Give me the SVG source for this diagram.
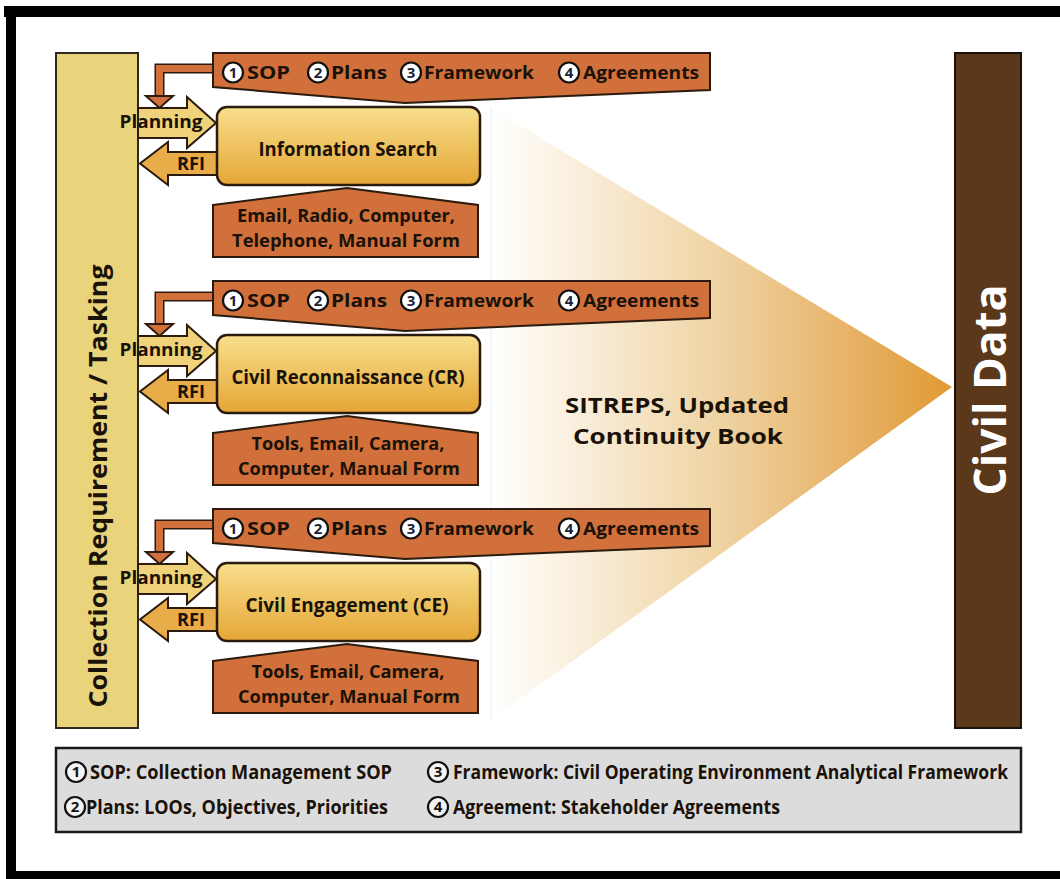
<svg xmlns="http://www.w3.org/2000/svg" width="1060" height="879" viewBox="0 0 1060 879">
  <defs>
    <linearGradient id="boxFill" x1="0" y1="0" x2="0" y2="1">
      <stop offset="0" stop-color="#F8DF8C"/>
      <stop offset="1" stop-color="#E5A636"/>
    </linearGradient>
    <linearGradient id="fanFill" gradientUnits="userSpaceOnUse" x1="491" y1="0" x2="952" y2="0">
      <stop offset="0" stop-color="#FFFFFF"/>
      <stop offset="0.15" stop-color="#FBF2E3"/>
      <stop offset="0.5" stop-color="#EFD3A2"/>
      <stop offset="0.8" stop-color="#E6B062"/>
      <stop offset="1" stop-color="#E09A33"/>
    </linearGradient>
    <style>
      .t { font-family: "Open Sans", "Liberation Sans", sans-serif; font-weight: bold; fill: #1A1208; }
      .mid { text-anchor: middle; }
      .orange { fill: #D1703B; stroke: #2B1B0E; stroke-width: 2; stroke-linejoin: miter; }
      .box { fill: url(#boxFill); stroke: #2B1B0E; stroke-width: 2.5; }
      .num { fill: #FFFFFF; stroke: #111111; stroke-width: 2.2; }
      .lnum { fill: #F4F4F4; stroke: #111111; stroke-width: 2.2; }
      .digit { font-family: "Open Sans", "Liberation Sans", sans-serif; font-weight: bold; font-size: 15px; fill: #1B2238; text-anchor: middle; }
      .pipe-out { fill: none; stroke: #2B1B0E; stroke-width: 10; stroke-linejoin: miter; }
      .pipe-in { fill: none; stroke: #D1703B; stroke-width: 7; stroke-linejoin: miter; }
      .plan { fill: #F0D27A; stroke: #2B1B0E; stroke-width: 2; stroke-linejoin: miter; }
      .rfi { fill: #E8AC48; stroke: #2B1B0E; stroke-width: 2; stroke-linejoin: miter; }
    </style>
  </defs>

  <rect width="1060" height="879" fill="#FFFFFF"/>

  <!-- outer frame -->
  <g id="frame" fill="#000000">
    <rect x="4" y="6" width="1056" height="11"/>
    <rect x="6" y="6" width="10" height="873"/>
    <rect x="6" y="871" width="1054" height="8"/>
  </g>

  <!-- fan of gathered information flowing to the civil data column -->
  <g id="sitreps">
    <polygon points="491,108 952,387 491,720" fill="url(#fanFill)"/>
    <line x1="491" y1="108" x2="491" y2="720" stroke="#EDEDED" stroke-width="1"/>
    <text class="t mid" x="677" y="413" font-size="22" textLength="224" lengthAdjust="spacingAndGlyphs">SITREPS, Updated</text>
    <text class="t mid" x="678" y="444" font-size="22" textLength="210" lengthAdjust="spacingAndGlyphs">Continuity Book</text>
  </g>

  <!-- left column -->
  <g id="collection-tasking">
    <rect x="56" y="53" width="82" height="675" fill="#E9D47C" stroke="#2E2A1E" stroke-width="2"/>
    <text class="t mid" transform="translate(107,486) rotate(-90)" font-size="25" textLength="443" lengthAdjust="spacingAndGlyphs">Collection Requirement / Tasking</text>
  </g>

  <!-- right column -->
  <g id="civil-data">
    <rect x="955" y="53" width="66" height="675" fill="#5A3819" stroke="#1A1208" stroke-width="2"/>
    <text class="t mid" transform="translate(1006,390) rotate(-90)" font-size="44" style="fill:#FFFFFF" textLength="211" lengthAdjust="spacingAndGlyphs">Civil Data</text>
  </g>

  <!-- connectors: guidance feeds, planning and RFI arrows -->
  <g id="connectors">
    <g id="feed-1">
      <path class="pipe-out" d="M214,68.5 H159.5 V97"/>
      <path class="pipe-in" d="M215,68.5 H159.5 V98"/>
      <polygon class="orange" points="146,96 173,96 159.5,108"/>
    </g>
    <g id="feed-2" transform="translate(0,228)">
      <path class="pipe-out" d="M214,68.5 H159.5 V97"/>
      <path class="pipe-in" d="M215,68.5 H159.5 V98"/>
      <polygon class="orange" points="146,96 173,96 159.5,108"/>
    </g>
    <g id="feed-3" transform="translate(0,456)">
      <path class="pipe-out" d="M214,68.5 H159.5 V97"/>
      <path class="pipe-in" d="M215,68.5 H159.5 V98"/>
      <polygon class="orange" points="146,96 173,96 159.5,108"/>
    </g>

    <g id="planning-1">
      <polygon class="plan" points="138,108 187,108 187,97 216,123 187,148 187,138 138,138"/>
      <text class="t mid" x="161" y="128" font-size="18.5" textLength="83" lengthAdjust="spacingAndGlyphs">Planning</text>
    </g>
    <g id="rfi-1">
      <polygon class="rfi" points="219,152 168,152 168,142 140,163.5 168,185 168,175 219,175"/>
      <text class="t mid" x="191" y="170" font-size="17" textLength="28" lengthAdjust="spacingAndGlyphs">RFI</text>
    </g>
    <g id="planning-2" transform="translate(0,228)">
      <polygon class="plan" points="138,108 187,108 187,97 216,123 187,148 187,138 138,138"/>
      <text class="t mid" x="161" y="128" font-size="18.5" textLength="83" lengthAdjust="spacingAndGlyphs">Planning</text>
    </g>
    <g id="rfi-2" transform="translate(0,228)">
      <polygon class="rfi" points="219,152 168,152 168,142 140,163.5 168,185 168,175 219,175"/>
      <text class="t mid" x="191" y="170" font-size="17" textLength="28" lengthAdjust="spacingAndGlyphs">RFI</text>
    </g>
    <g id="planning-3" transform="translate(0,456)">
      <polygon class="plan" points="138,108 187,108 187,97 216,123 187,148 187,138 138,138"/>
      <text class="t mid" x="161" y="128" font-size="18.5" textLength="83" lengthAdjust="spacingAndGlyphs">Planning</text>
    </g>
    <g id="rfi-3" transform="translate(0,456)">
      <polygon class="rfi" points="219,152 168,152 168,142 140,163.5 168,185 168,175 219,175"/>
      <text class="t mid" x="191" y="170" font-size="17" textLength="28" lengthAdjust="spacingAndGlyphs">RFI</text>
    </g>
  </g>

  <!-- guidance banners -->
  <g id="guidance-1">
    <path class="orange" d="M213,53 H710 V90 L405,103 L213,87 Z"/>
    <circle class="num" cx="233" cy="72.5" r="10"/><text class="digit" x="233" y="77.8">1</text>
    <text class="t" x="247" y="79" font-size="18.5" textLength="43" lengthAdjust="spacingAndGlyphs">SOP</text>
    <circle class="num" cx="318" cy="72.5" r="10"/><text class="digit" x="318" y="77.8">2</text>
    <text class="t" x="331" y="79" font-size="18.5" textLength="56" lengthAdjust="spacingAndGlyphs">Plans</text>
    <circle class="num" cx="411" cy="72.5" r="10"/><text class="digit" x="411" y="77.8">3</text>
    <text class="t" x="424" y="79" font-size="18.5" textLength="110" lengthAdjust="spacingAndGlyphs">Framework</text>
    <circle class="num" cx="569" cy="72.5" r="10"/><text class="digit" x="569" y="77.8">4</text>
    <text class="t" x="583" y="79" font-size="18.5" textLength="116" lengthAdjust="spacingAndGlyphs">Agreements</text>
  </g>
  <g id="guidance-2" transform="translate(0,228)">
    <path class="orange" d="M213,53 H710 V90 L405,103 L213,87 Z"/>
    <circle class="num" cx="233" cy="72.5" r="10"/><text class="digit" x="233" y="77.8">1</text>
    <text class="t" x="247" y="79" font-size="18.5" textLength="43" lengthAdjust="spacingAndGlyphs">SOP</text>
    <circle class="num" cx="318" cy="72.5" r="10"/><text class="digit" x="318" y="77.8">2</text>
    <text class="t" x="331" y="79" font-size="18.5" textLength="56" lengthAdjust="spacingAndGlyphs">Plans</text>
    <circle class="num" cx="411" cy="72.5" r="10"/><text class="digit" x="411" y="77.8">3</text>
    <text class="t" x="424" y="79" font-size="18.5" textLength="110" lengthAdjust="spacingAndGlyphs">Framework</text>
    <circle class="num" cx="569" cy="72.5" r="10"/><text class="digit" x="569" y="77.8">4</text>
    <text class="t" x="583" y="79" font-size="18.5" textLength="116" lengthAdjust="spacingAndGlyphs">Agreements</text>
  </g>
  <g id="guidance-3" transform="translate(0,456)">
    <path class="orange" d="M213,53 H710 V90 L405,103 L213,87 Z"/>
    <circle class="num" cx="233" cy="72.5" r="10"/><text class="digit" x="233" y="77.8">1</text>
    <text class="t" x="247" y="79" font-size="18.5" textLength="43" lengthAdjust="spacingAndGlyphs">SOP</text>
    <circle class="num" cx="318" cy="72.5" r="10"/><text class="digit" x="318" y="77.8">2</text>
    <text class="t" x="331" y="79" font-size="18.5" textLength="56" lengthAdjust="spacingAndGlyphs">Plans</text>
    <circle class="num" cx="411" cy="72.5" r="10"/><text class="digit" x="411" y="77.8">3</text>
    <text class="t" x="424" y="79" font-size="18.5" textLength="110" lengthAdjust="spacingAndGlyphs">Framework</text>
    <circle class="num" cx="569" cy="72.5" r="10"/><text class="digit" x="569" y="77.8">4</text>
    <text class="t" x="583" y="79" font-size="18.5" textLength="116" lengthAdjust="spacingAndGlyphs">Agreements</text>
  </g>

  <!-- collection activities -->
  <g id="information-search">
    <rect class="box" x="217" y="107" width="263" height="78" rx="10"/>
    <text class="t mid" x="348" y="156" font-size="19.5" textLength="179" lengthAdjust="spacingAndGlyphs">Information Search</text>
  </g>
  <g id="civil-reconnaissance" transform="translate(0,228)">
    <rect class="box" x="217" y="107" width="263" height="78" rx="10"/>
    <text class="t mid" x="348" y="156" font-size="19.5" textLength="233" lengthAdjust="spacingAndGlyphs">Civil Reconnaissance (CR)</text>
  </g>
  <g id="civil-engagement" transform="translate(0,456)">
    <rect class="box" x="217" y="107" width="263" height="78" rx="10"/>
    <text class="t mid" x="347" y="156" font-size="19.5" textLength="203" lengthAdjust="spacingAndGlyphs">Civil Engagement (CE)</text>
  </g>

  <!-- collection means -->
  <g id="means-1">
    <path class="orange" d="M213,205 L347,188 L478,205 V257 H213 Z"/>
    <text class="t mid" x="346" y="222" font-size="18" textLength="218" lengthAdjust="spacingAndGlyphs">Email, Radio, Computer,</text>
    <text class="t mid" x="346" y="247" font-size="18" textLength="228" lengthAdjust="spacingAndGlyphs">Telephone, Manual Form</text>
  </g>
  <g id="means-2" transform="translate(0,228)">
    <path class="orange" d="M213,205 L347,188 L478,205 V257 H213 Z"/>
    <text class="t mid" x="348" y="222" font-size="18" textLength="193" lengthAdjust="spacingAndGlyphs">Tools, Email, Camera,</text>
    <text class="t mid" x="349" y="247" font-size="18" textLength="222" lengthAdjust="spacingAndGlyphs">Computer, Manual Form</text>
  </g>
  <g id="means-3" transform="translate(0,456)">
    <path class="orange" d="M213,205 L347,188 L478,205 V257 H213 Z"/>
    <text class="t mid" x="348" y="222" font-size="18" textLength="193" lengthAdjust="spacingAndGlyphs">Tools, Email, Camera,</text>
    <text class="t mid" x="349" y="247" font-size="18" textLength="222" lengthAdjust="spacingAndGlyphs">Computer, Manual Form</text>
  </g>

  <!-- key -->
  <g id="legend">
    <rect x="56" y="748" width="965" height="84" fill="#DCDCDC" stroke="#1A1A1A" stroke-width="2.5"/>
    <circle class="lnum" cx="76" cy="772" r="10"/><text class="digit" x="76" y="777.3" style="fill:#111111">1</text>
    <text class="t" x="90" y="779" font-size="19" textLength="302" lengthAdjust="spacingAndGlyphs">SOP: Collection Management SOP</text>
    <circle class="lnum" cx="75" cy="807" r="10"/><text class="digit" x="75" y="812.3" style="fill:#111111">2</text>
    <text class="t" x="86" y="814" font-size="19" textLength="302" lengthAdjust="spacingAndGlyphs">Plans: LOOs, Objectives, Priorities</text>
    <circle class="lnum" cx="438" cy="772" r="10"/><text class="digit" x="438" y="777.3" style="fill:#111111">3</text>
    <text class="t" x="453" y="779" font-size="19" textLength="555" lengthAdjust="spacingAndGlyphs">Framework: Civil Operating Environment Analytical Framework</text>
    <circle class="lnum" cx="438" cy="807" r="10"/><text class="digit" x="438" y="812.3" style="fill:#111111">4</text>
    <text class="t" x="453" y="814" font-size="19" textLength="327" lengthAdjust="spacingAndGlyphs">Agreement: Stakeholder Agreements</text>
  </g>
</svg>
